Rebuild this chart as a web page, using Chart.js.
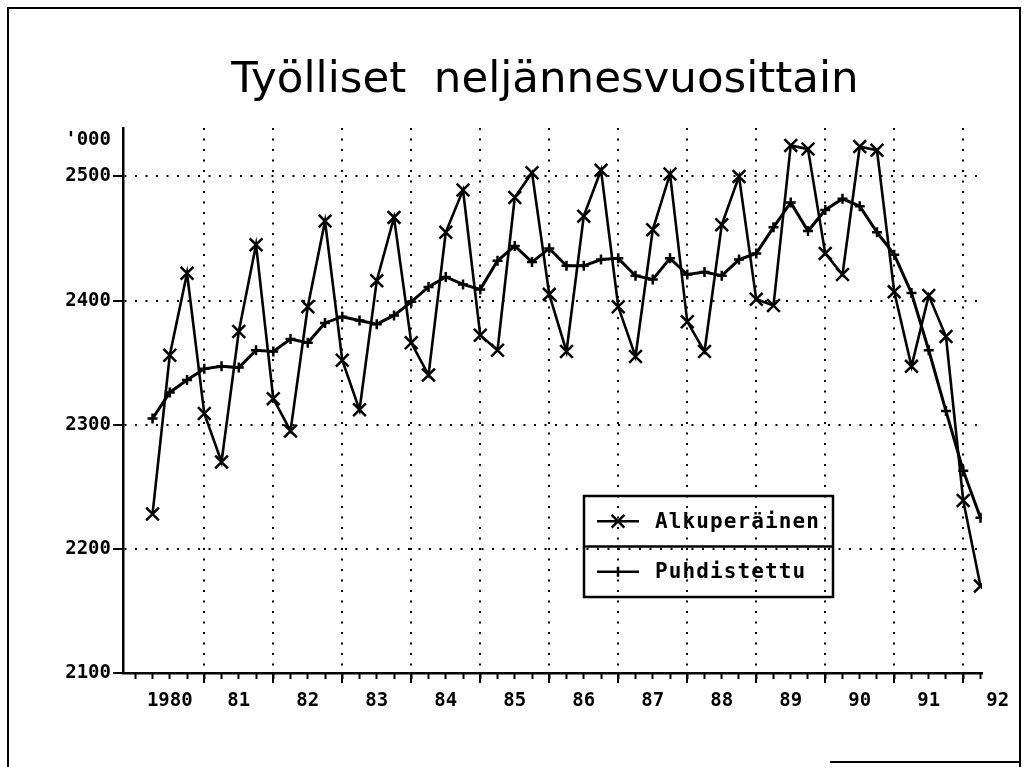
<!DOCTYPE html>
<html lang="fi">
<head>
<meta charset="utf-8">
<title>Työlliset neljännesvuosittain</title>
<script src="https://cdn.jsdelivr.net/npm/chart.js@4.4.1/dist/chart.umd.min.js"></script>
<style>
  html, body { margin: 0; padding: 0; background: #fff; overflow: hidden; }
  #kehys { position: absolute; left: 7px; top: 7px; width: 1014px; height: 770px;
           border: 2px solid #000; border-bottom: none; box-sizing: border-box; }
  #alareuna { position: absolute; left: 830px; top: 761px; width: 191px; height: 2px; background: #000; }
  #grafiikka { position: absolute; left: 0; top: 0; }
</style>
</head>
<body>
<div id="kehys"></div>
<div id="alareuna"></div>
<canvas id="grafiikka" width="1025" height="767"></canvas>
<script>
// Tiedot luettu kuvasta (tuhatta henkeä), 1980 I - 1992 I
const alkuVuosi = 1980;
const alkuperainen = [2228, 2356, 2422, 2309, 2270, 2375, 2445, 2321, 2295, 2395, 2464, 2352,
    2312, 2416, 2467, 2366, 2340, 2455, 2489, 2372, 2360, 2483, 2503, 2405,
    2359, 2468, 2505, 2395, 2355, 2457, 2502, 2383, 2359, 2461, 2500, 2401,
    2396, 2525, 2522, 2438, 2421, 2524, 2521, 2407, 2347, 2404, 2371, 2239, 2170];
const puhdistettu = [2305, 2326, 2336, 2345, 2347, 2346, 2360, 2359, 2369, 2366, 2382, 2387,
    2384, 2381, 2388, 2399, 2411, 2419, 2413, 2409, 2432, 2444, 2431, 2442,
    2428, 2428, 2433, 2434, 2420, 2417, 2434, 2421, 2423, 2420, 2433, 2438,
    2459, 2479, 2456, 2473, 2482, 2476, 2455, 2437, 2406, 2360, 2311, 2263, 2225];
const vuodet = [1980, 1981, 1982, 1983, 1984, 1985, 1986, 1987, 1988, 1989, 1990, 1991, 1992];
const vuosiNimet = ['1980', '81', '82', '83', '84', '85', '86', '87', '88', '89', '90', '91', '92'];
const yArvot = [2100, 2200, 2300, 2400, 2500];
const yksikko = "'000";
const yksikkoKohta = 2529;
const sarjaNimet = ['Alkuperäinen', 'Puhdistettu'];

// neljännes piirretään neljänneksen loppuun
function pisteet(sarja) {
    return sarja.map((y, i) => ({ x: alkuVuosi + (i + 1) / 4, y: y }));
}

const neljannekset = [];
for (let i = 0; i <= alkuperainen.length; i++) neljannekset.push(alkuVuosi + i / 4);

const musta = '#000';
const tyhja = 'rgba(0,0,0,0)';
const akseliFontti = { family: 'DejaVu Sans Mono', size: 19, weight: 'bold' };

const selite = {
    id: 'selite',
    afterDraw(chart) {
        const ctx = chart.ctx;
        const x0 = 584, y0 = 496, w = 249, h = 101;
        ctx.save();
        ctx.strokeStyle = musta;
        ctx.lineWidth = 2.5;
        ctx.strokeRect(x0, y0, w, h);
        ctx.beginPath();
        ctx.moveTo(x0, y0 + h / 2);
        ctx.lineTo(x0 + w, y0 + h / 2);
        ctx.stroke();
        chart.data.datasets.forEach((ds, i) => {
            const y = y0 + h / 4 + i * h / 2;
            ctx.lineWidth = 2.5;
            ctx.beginPath();
            ctx.moveTo(597, y);
            ctx.lineTo(639, y);
            const r = ds.pointRadius;
            if (ds.pointStyle === 'crossRot') {
                const d = r * Math.SQRT1_2;
                ctx.moveTo(618 - d, y - d); ctx.lineTo(618 + d, y + d);
                ctx.moveTo(618 - d, y + d); ctx.lineTo(618 + d, y - d);
            } else {
                ctx.moveTo(618, y - r); ctx.lineTo(618, y + r);
            }
            ctx.stroke();
            ctx.fillStyle = musta;
            ctx.font = 'bold 21px "DejaVu Sans Mono"';
            ctx.letterSpacing = '1.1px';
            ctx.textBaseline = 'middle';
            ctx.fillText(ds.label, 655, y + 1);
        });
        ctx.restore();
    }
};

new Chart(document.getElementById('grafiikka').getContext('2d'), {
    type: 'line',
    data: {
        datasets: [
            {
                label: sarjaNimet[0],
                data: pisteet(alkuperainen),
                borderColor: musta,
                borderWidth: 2.6,
                pointStyle: 'crossRot',
                pointRadius: 9,
                pointBorderWidth: 2.5,
                pointBorderColor: musta,
                tension: 0
            },
            {
                label: sarjaNimet[1],
                data: pisteet(puhdistettu),
                borderColor: musta,
                borderWidth: 3,
                pointStyle: 'cross',
                pointRadius: 5,
                pointBorderWidth: 2.5,
                pointBorderColor: musta,
                tension: 0
            }
        ]
    },
    options: {
        responsive: false,
        animation: false,
        devicePixelRatio: 1,
        layout: { padding: { left: 65, right: 0, top: 0, bottom: 0 } },
        plugins: {
            legend: { display: false },
            tooltip: { enabled: false },
            title: {
                display: true,
                text: 'Työlliset  neljännesvuosittain',
                color: musta,
                font: { family: 'DejaVu Sans', size: 43.5, weight: 'normal' },
                padding: { top: 55, bottom: 20.8 }
            }
        },
        scales: {
            xq: {
                type: 'linear',
                position: 'bottom',
                weight: 0,
                min: 1979.822,
                max: 1992.272,
                afterBuildTicks: (axis) => { axis.ticks = neljannekset.map(v => ({ value: v })); },
                afterFit: (axis) => { axis.height = 0; },
                ticks: { display: false },
                grid: { drawOnChartArea: false, tickLength: 6, tickWidth: 2, tickColor: musta },
                border: { display: false }
            },
            x: {
                type: 'linear',
                position: 'bottom',
                weight: 1,
                min: 1979.822,
                max: 1992.272,
                afterBuildTicks: (axis) => { axis.ticks = vuodet.map(v => ({ value: v })); },
                afterFit: (axis) => { axis.height = 94; },
                ticks: {
                    autoSkip: false,
                    maxRotation: 0,
                    color: musta,
                    font: akseliFontti,
                    padding: 7,
                    labelOffset: 34.5,
                    callback: (value, index) => vuosiNimet[index]
                },
                grid: {
                    color: (c) => (c.tick && c.tick.value === alkuVuosi) ? tyhja : musta,
                    lineWidth: 2,
                    tickLength: 10,
                    tickWidth: 2,
                    tickColor: (c) => (c.tick && c.tick.value === alkuVuosi) ? tyhja : musta,
                    tickBorderDash: []
                },
                border: { display: true, color: musta, width: 2.5, dash: [2, 8.5] }
            },
            y: {
                type: 'linear',
                position: 'left',
                min: 2100,
                max: 2539,
                afterBuildTicks: (axis) => {
                    axis.ticks = yArvot.map(v => ({ value: v })).concat([{ value: yksikkoKohta }]);
                },
                afterFit: (axis) => { axis.width = 58; },
                ticks: {
                    color: musta,
                    font: akseliFontti,
                    padding: 2,
                    callback: (value) => value === yksikkoKohta ? yksikko : String(value)
                },
                grid: {
                    color: (c) => (c.tick && (c.tick.value === yArvot[0] || c.tick.value === yksikkoKohta)) ? tyhja : musta,
                    lineWidth: 2,
                    tickLength: 10,
                    tickWidth: 2,
                    tickColor: (c) => (c.tick && c.tick.value === yksikkoKohta) ? tyhja : musta,
                    tickBorderDash: []
                },
                border: { display: true, color: musta, width: 2.5, dash: [2, 8.5] }
            },
            // tyhjä oikea akseli pitää kuva-alueen oikean reunan paikallaan
            yo: {
                type: 'linear',
                position: 'right',
                min: 2100,
                max: 2539,
                afterFit: (axis) => { axis.width = 43; },
                ticks: { display: false },
                grid: { display: false },
                border: { display: false }
            }
        }
    },
    plugins: [selite]
});
</script>
</body>
</html>
